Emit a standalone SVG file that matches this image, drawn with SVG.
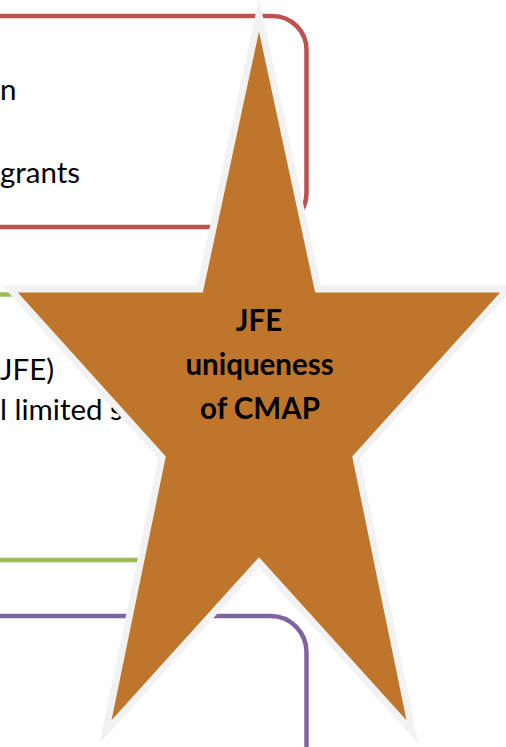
<svg xmlns="http://www.w3.org/2000/svg" width="506" height="747" viewBox="0 0 506 747">
  <style>
    .box { fill: #FFFFFF; stroke-width: 4.5; }
    .red { stroke: #C0504D; }
    .green { stroke: #9BBB59; }
    .purple { stroke: #8064A2; }
    .body { font-family: Lato, "Open Sans", "Liberation Sans", sans-serif; font-size: 29.5px; fill: #000000; }
    .star { fill: #C0762A; stroke: #F2F2F2; stroke-width: 7; stroke-linejoin: miter; stroke-miterlimit: 20; }
    .label { font-family: Lato, "Open Sans", "Liberation Sans", sans-serif; font-size: 29.5px; font-weight: bold; fill: #000000; text-anchor: middle; }
  </style>
  <rect width="506" height="747" fill="#FFFFFF"/>
  <g id="red-box">
    <rect class="box red" x="-60" y="16" width="366.5" height="211" rx="34" ry="34"/>
    <text class="body" x="0" y="100">n</text>
    <text class="body" x="0" y="183">grants</text>
  </g>
  <g id="green-box">
    <rect class="box green" x="-60" y="294.5" width="366.5" height="265.5" rx="34" ry="34"/>
    <text class="body" x="0" y="380">JFE)</text>
    <text class="body" x="0" y="420">l limited s</text>
  </g>
  <g id="purple-box">
    <rect class="box purple" x="-60" y="616" width="366.5" height="200" rx="36" ry="36"/>
  </g>
  <g id="connectors"/>
  <g id="jfe-star">
    <polygon class="star" points="259,15 318,289 508,289 356,457.5 412.5,732 259,562.5 105.5,732 162,457.5 10,289 200,289"/>
    <text class="label" x="259" y="331">JFE</text>
    <text class="label" x="259.5" y="375">uniqueness</text>
    <text class="label" x="260" y="419">of CMAP</text>
  </g>
</svg>
